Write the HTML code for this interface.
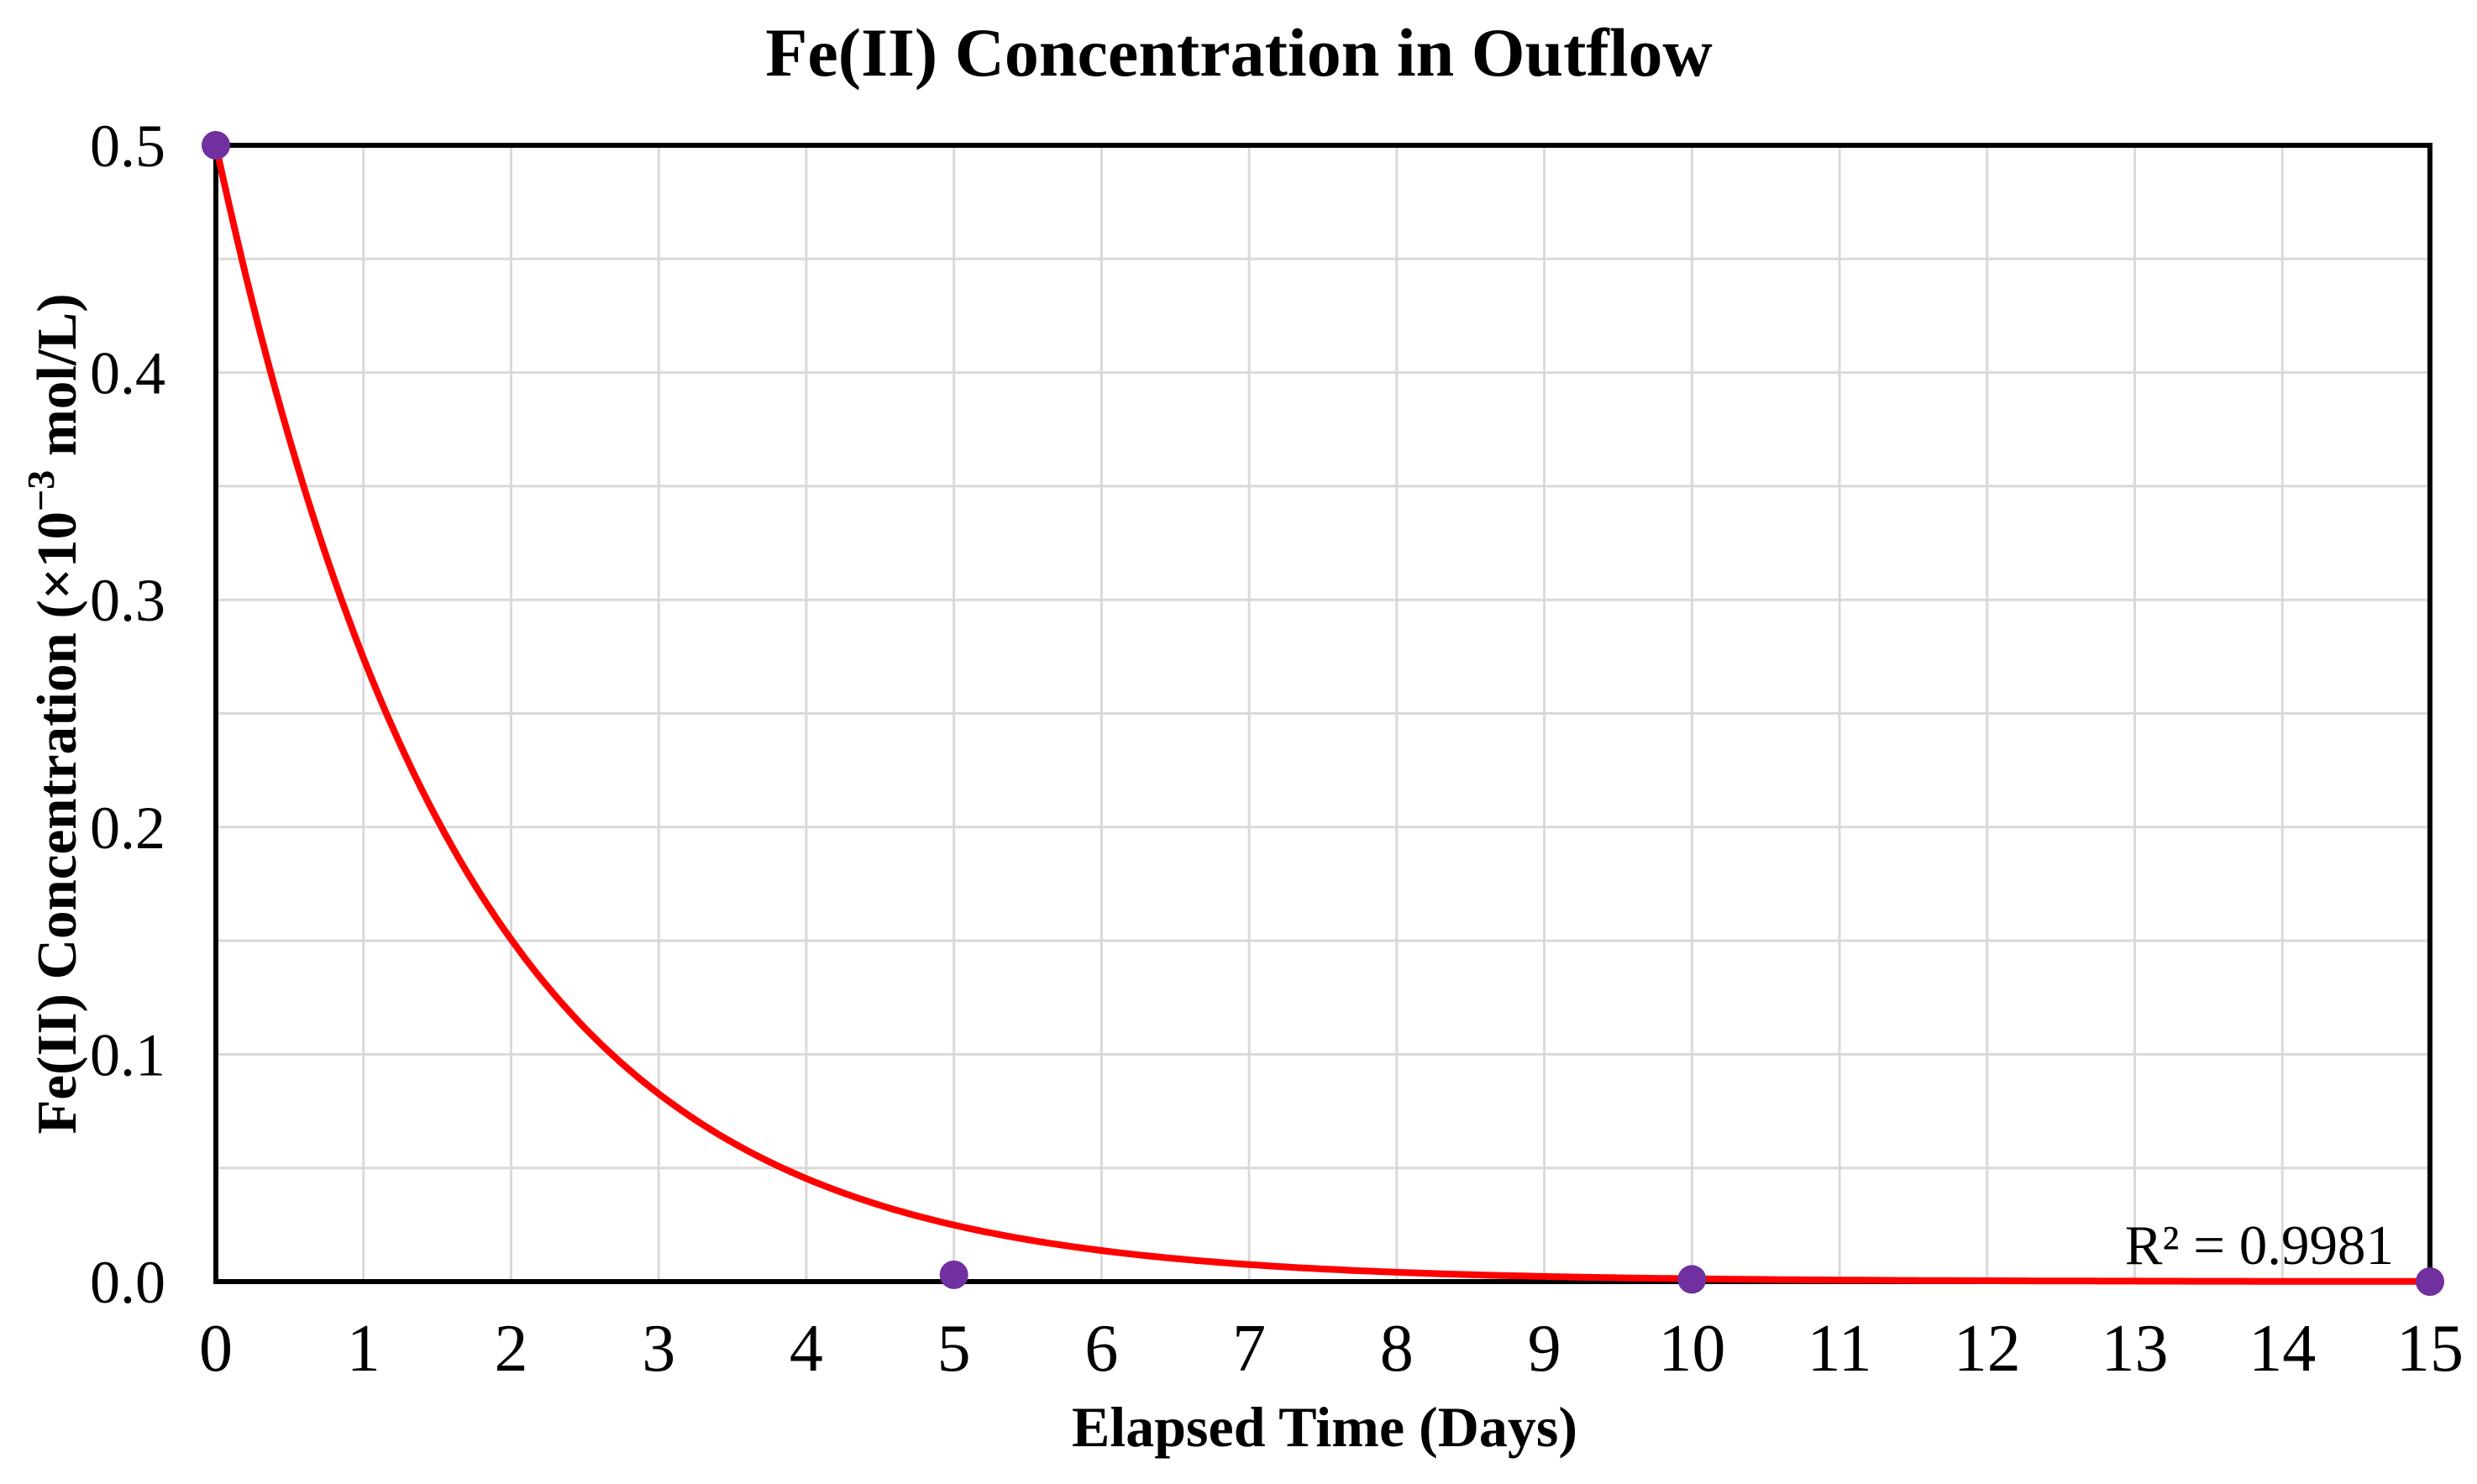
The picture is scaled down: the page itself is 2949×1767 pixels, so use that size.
<!DOCTYPE html>
<html><head><meta charset="utf-8"><style>
html,body{margin:0;padding:0;background:#fff;}
svg{display:block;font-family:"Liberation Serif",serif;}
</style></head><body>
<svg id="chart" width="2949" height="1767" viewBox="0 0 2949 1767" xmlns="http://www.w3.org/2000/svg">
<rect width="2949" height="1767" fill="#fff"/>
<text x="1475" y="90" text-anchor="middle" font-size="82" font-weight="bold">Fe(II) Concentration in Outflow</text>
<g id="grid"></g>
<g id="axes"></g>
<g id="series"></g>
<text x="1577" y="1722" text-anchor="middle" font-size="68" font-weight="bold">Elapsed Time (Days)</text>
<text transform="translate(90,850) rotate(-90)" text-anchor="middle" font-size="67" font-weight="bold">Fe(II) Concentration (×10<tspan dy="-26" font-size="46">−3</tspan><tspan dy="26"> mol/L)</tspan></text>
<text x="2850" y="1505" text-anchor="end" font-size="67">R² = 0.9981</text>
</svg>
<script>
const xTicks=[0,1,2,3,4,5,6,7,8,9,10,11,12,13,14,15];
const yTicks=[0.0,0.1,0.2,0.3,0.4,0.5];
const yTickLabels=["0.0","0.1","0.2","0.3","0.4","0.5"];
const yMinorGrid=[0.05,0.15,0.25,0.35,0.45];
const dataX=[0,5,10,15];
const dataY=[0.5,0.003,0.001,0.0];
const fitA=[0.5];
const fitK=[0.6];

const L=257,R=2893,T=173,B=1526;
const NS="http://www.w3.org/2000/svg";
const sx=v=>L+(v-0)/(15-0)*(R-L);
const sy=v=>B-(v-0)/(0.5-0)*(B-T);
function mk(tag,attrs,parent){const e=document.createElementNS(NS,tag);for(const k in attrs)e.setAttribute(k,attrs[k]);parent.appendChild(e);return e;}
const grid=document.getElementById('grid'),axes=document.getElementById('axes'),series=document.getElementById('series');
xTicks.forEach(t=>{
  const l=mk('line',{x1:sx(t),x2:sx(t),y1:T,y2:B,stroke:'#d9d9d9','stroke-width':3},grid);
  
  
  const tx=mk('text',{x:sx(t),y:1632,'text-anchor':'middle','font-size':80},axes);
  tx.textContent=t;
  
  
});
yTicks.concat(yMinorGrid).forEach(t=>{
  const l=mk('line',{x1:L,x2:R,y1:sy(t),y2:sy(t),stroke:'#d9d9d9','stroke-width':3},grid);
  
  
});
yTicks.forEach((t,i)=>{
  const tx=mk('text',{x:197,y:sy(t)+25,'text-anchor':'end','font-size':72},axes);
  tx.textContent=yTickLabels[i];
  
  
});
const frame=mk('rect',{x:L,y:T,width:R-L,height:B-T,fill:'none',stroke:'#000','stroke-width':6},axes);


let d='';
for(let i=0;i<=300;i++){const t=15*i/300;const v=fitA[0]*Math.exp(-fitK[0]*t);d+=(i?'L':'M')+sx(t).toFixed(1)+','+sy(v).toFixed(1);}
const p=mk('path',{d:d,fill:'none',stroke:'#ff0000','stroke-width':8},series);


dataX.forEach((x,i)=>{
  const c=mk('circle',{cx:sx(x),cy:sy(dataY[i]),r:17,fill:'#7030a0'},series);
  
  
});
</script>
</body></html>
